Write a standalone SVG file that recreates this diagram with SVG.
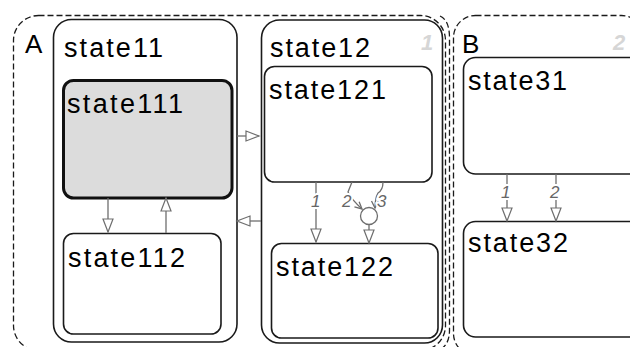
<svg xmlns="http://www.w3.org/2000/svg" width="630" height="347" viewBox="0 0 630 347">
<defs>
<style>
.st{fill:#fff;stroke:#1a1a1a;stroke-width:1.6}
.par{fill:none;stroke:#1a1a1a;stroke-width:1.3;stroke-dasharray:6 3}
.nm{font-family:"Liberation Sans",Arial,sans-serif;font-size:27px;fill:#000}
.big{font-family:"Liberation Sans",Arial,sans-serif;font-size:26px;fill:#000}
.ord{font-family:"Liberation Sans",Arial,sans-serif;font-size:22px;font-weight:bold;font-style:italic;fill:#d6d6d6}
.tl{font-family:"Liberation Sans",Arial,sans-serif;font-size:17px;font-style:italic;fill:#666;stroke:#fff;stroke-width:4;paint-order:stroke}
.cn{fill:none;stroke:#6e6e6e;stroke-width:1.3}
</style>
<marker id="ah" markerUnits="userSpaceOnUse" markerWidth="16" markerHeight="12" refX="14" refY="6" orient="auto">
<path d="M1,1 L14,6 L1,11 Z" fill="#fff" stroke="#6e6e6e" stroke-width="1.2"/>
</marker>
<marker id="sm" markerUnits="userSpaceOnUse" markerWidth="10" markerHeight="10" refX="8" refY="5" orient="auto">
<path d="M1,1.5 L8,5 L1,8.5" fill="none" stroke="#6e6e6e" stroke-width="1.3"/>
</marker>
</defs>

<g id="A">
<rect class="par" x="13.5" y="15.5" width="432" height="335" rx="25"/>
<path class="par" d="M440,16 Q449.5,20 449.5,38 L449.5,330 Q449.5,344 441,349"/>
<text class="big" x="25" y="53">A</text>
</g>

<g id="state11">
<rect class="st" x="53.5" y="19.5" width="183.5" height="322.5" rx="18"/>
<text class="nm" x="64" y="57" textLength="99" lengthAdjust="spacing">state11</text>
</g>

<g id="state111">
<rect x="63.5" y="80.5" width="168.5" height="117.5" rx="10" fill="#dcdcdc" stroke="#111" stroke-width="3"/>
<text class="nm" x="67" y="113" textLength="116" lengthAdjust="spacing">state111</text>
</g>

<g id="state112">
<rect class="st" x="63.5" y="233.5" width="157.5" height="100.5" rx="10"/>
<text class="nm" x="68" y="267" textLength="117" lengthAdjust="spacing">state112</text>
</g>

<g id="state12">
<rect class="st" x="261.5" y="20" width="181" height="323" rx="18"/>
<text class="nm" x="270" y="57" textLength="100" lengthAdjust="spacing">state12</text>
<text class="ord" x="421" y="50">1</text>
</g>

<g id="state121">
<rect class="st" x="264.5" y="66.5" width="167.5" height="115.5" rx="10"/>
<text class="nm" x="269" y="99" textLength="117" lengthAdjust="spacing">state121</text>
</g>

<g id="state122">
<rect class="st" x="271.5" y="243.5" width="166.5" height="94.5" rx="10"/>
<text class="nm" x="276" y="276" textLength="117" lengthAdjust="spacing">state122</text>
</g>

<g id="junction">
<circle cx="369" cy="216" r="8.5" fill="#fff" stroke="#6e6e6e" stroke-width="1.3"/>
</g>

<g id="B">
<rect class="par" x="453.5" y="15.5" width="190" height="340" rx="22"/>
<text class="big" x="462" y="53">B</text>
<text class="ord" x="613" y="50">2</text>
</g>

<g id="state31">
<rect class="st" x="463.5" y="57.5" width="180" height="116.5" rx="12"/>
<text class="nm" x="468" y="90" textLength="99" lengthAdjust="spacing">state31</text>
</g>

<g id="state32">
<rect class="st" x="463.5" y="221.5" width="180" height="115.5" rx="12"/>
<text class="nm" x="468" y="252" textLength="100" lengthAdjust="spacing">state32</text>
</g>

<g id="connectors">
<path class="cn" d="M108,198 L108,232" marker-end="url(#ah)"/>
<path class="cn" d="M166,233 L166,198" marker-end="url(#ah)"/>
<path class="cn" d="M237,136 L259,136" marker-end="url(#ah)"/>
<path class="cn" d="M261,221 L237,221" marker-end="url(#ah)"/>
<path class="cn" d="M316,182 L316,242" marker-end="url(#ah)"/>
<text class="tl" x="311" y="207">1</text>
<path class="cn" d="M352,182 L348,192 Q352,200 362,209" marker-end="url(#sm)"/>
<text class="tl" x="342" y="207">2</text>
<path class="cn" d="M383,182 Q383,190 378,193 Q375,198 375,208" marker-end="url(#sm)"/>
<text class="tl" x="377" y="207">3</text>
<path class="cn" d="M369,224.5 L369,243" marker-end="url(#ah)"/>
<path class="cn" d="M507,174 L507,221" marker-end="url(#ah)"/>
<text class="tl" x="501" y="198">1</text>
<path class="cn" d="M556,174 L556,221" marker-end="url(#ah)"/>
<text class="tl" x="550" y="198">2</text>
</g>
</svg>
